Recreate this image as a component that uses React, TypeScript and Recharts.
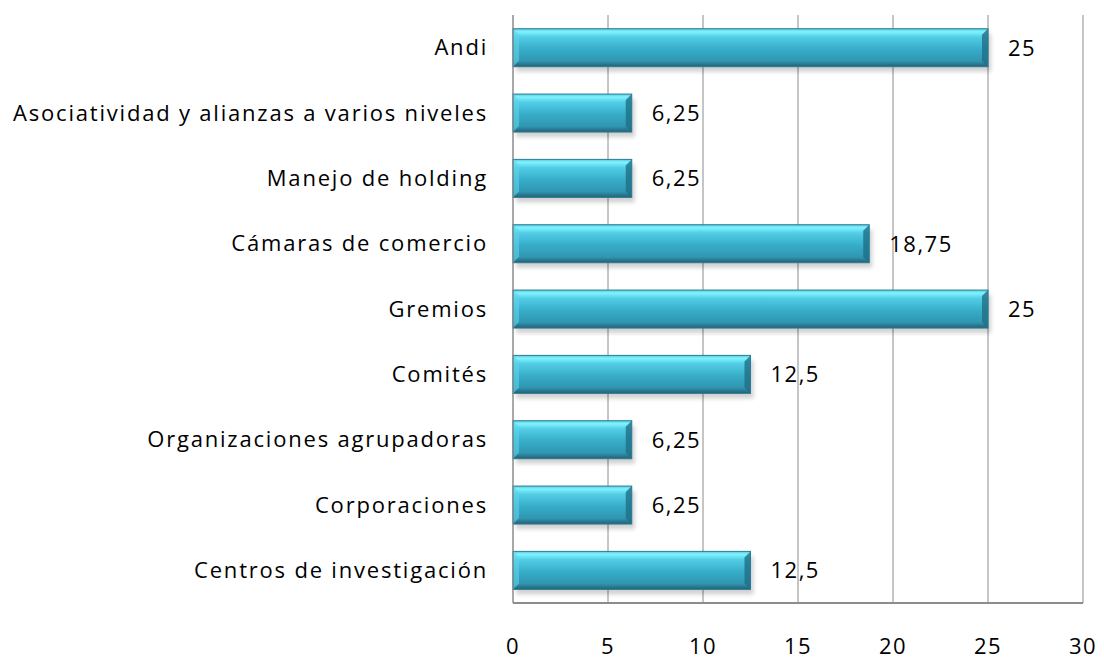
import React from "react";
import { BarChart, Bar, XAxis, YAxis, CartesianGrid, LabelList } from "recharts";

const categories = [
  "Andi",
  "Asociatividad y alianzas a varios niveles",
  "Manejo de holding",
  "Cámaras de comercio",
  "Gremios",
  "Comités",
  "Organizaciones agrupadoras",
  "Corporaciones",
  "Centros de investigación",
];
const values = [25, 6.25, 6.25, 18.75, 25, 12.5, 6.25, 6.25, 12.5];
const xTicks = [0, 5, 10, 15, 20, 25, 30];

const data = categories.map((name, i) => ({ name, value: values[i] }));

const FONT = "'Open Sans', Lato, sans-serif";

// cylinder-ish bar like the old Excel 3D preset
function GlassBar(props: any) {
  const { x, y, width, height } = props;
  if (!width || width <= 0) return null;
  const b = 6;
  return (
    <g>
      <rect x={x + 3} y={y + 5} width={width} height={height} fill="#000" opacity={0.18} filter="url(#blur)" />
      <rect x={x} y={y} width={width} height={height} fill="url(#barGrad)" />
      {/* right bevel */}
      <polygon
        points={`${x + width - b},${y + b} ${x + width},${y} ${x + width},${y + height} ${x + width - b},${y + height - b}`}
        fill="#1f6f86"
        opacity={0.8}
      />
      {/* left bevel */}
      <polygon
        points={`${x},${y} ${x + b},${y + b} ${x + b},${y + height - b} ${x},${y + height}`}
        fill="#5fd3ea"
        opacity={0.6}
      />
      <rect x={x} y={y} width={width} height={height} fill="none" stroke="#2a7d95" strokeWidth={1} />
    </g>
  );
}

export default function App() {
  return (
    <div style={{ position: "absolute", left: 0, top: 0, width: 1104, height: 661, background: "#fff" }}>
      <BarChart
        width={1104}
        height={661}
        data={data}
        layout="vertical"
        margin={{ top: 15, right: 21, bottom: 0, left: 0 }}
        barCategoryGap="21%"
      >
        <defs>
          <linearGradient id="barGrad" x1="0" y1="0" x2="0" y2="1">
            <stop offset="0%" stopColor="#5ec9de" />
            <stop offset="8%" stopColor="#7ff4ff" />
            <stop offset="22%" stopColor="#52cde6" />
            <stop offset="55%" stopColor="#36acc8" />
            <stop offset="85%" stopColor="#3096b1" />
            <stop offset="100%" stopColor="#255f73" />
          </linearGradient>
          <filter id="blur" x="-5%" y="-30%" width="110%" height="160%">
            <feGaussianBlur stdDeviation="2" />
          </filter>
        </defs>
        <CartesianGrid horizontal={false} stroke="#8c8c8c" strokeWidth={1} />
        <XAxis
          type="number"
          domain={[0, 30]}
          ticks={xTicks}
          interval={0}
          height={58}
          axisLine={{ stroke: "#8c8c8c", strokeWidth: 2 }}
          tickLine={false}
          tickSize={0}
          tickMargin={35}
          tick={{ fill: "#000", fontSize: 22, fontFamily: FONT, letterSpacing: 1.5 }}
        />
        <YAxis
          type="category"
          dataKey="name"
          width={513}
          axisLine={{ stroke: "#8c8c8c", strokeWidth: 1 }}
          tickLine={false}
          tickSize={0}
          tickMargin={25}
          interval={0}
          tick={{ fill: "#000", fontSize: 22, fontFamily: FONT, letterSpacing: 1.8 }}
        />
        <Bar dataKey="value" shape={<GlassBar />} isAnimationActive={false}>
          <LabelList
            dataKey="value"
            position="right"
            offset={20}
            formatter={(v: any) => String(v).replace(".", ",")}
            style={{ fill: "#000", fontSize: 22, fontFamily: FONT, letterSpacing: 1.5 }}
          />
        </Bar>
      </BarChart>
    </div>
  );
}
